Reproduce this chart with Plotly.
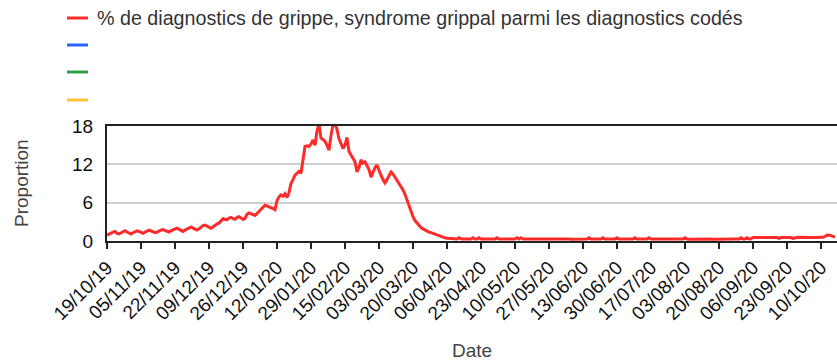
import pandas as pd
import plotly.graph_objects as go

# Daily share (%) of flu / influenza-like-illness diagnoses among coded diagnoses
flu_pct = [
    0.9, 1.1, 1.3, 1.4, 1.5, 1.2, 1.1,
    1.3, 1.5, 1.6, 1.4, 1.2, 1.1, 1.3,
    1.5, 1.6, 1.5, 1.3, 1.2, 1.4, 1.6,
    1.7, 1.6, 1.4, 1.3, 1.4, 1.6, 1.7,
    1.8, 1.7, 1.5, 1.4, 1.6, 1.8, 1.9,
    2.0, 1.8, 1.6, 1.5, 1.7, 1.9, 2.1,
    2.2, 2.0, 1.8, 1.7, 1.9, 2.2, 2.4,
    2.5, 2.3, 2.1, 2.0, 2.2, 2.5, 2.7,
    2.8, 3.2, 3.5, 3.4, 3.3, 3.6, 3.7,
    3.5, 3.4, 3.7, 3.8, 3.6, 3.4, 3.5,
    4.2, 4.4, 4.3, 4.1, 4.0, 4.3, 4.6,
    4.9, 5.3, 5.6, 5.5, 5.3, 5.2, 5.1,
    4.9, 6.3, 6.9, 7.2, 7.0, 7.4, 6.8,
    7.6, 9.0, 9.6, 10.3, 10.6, 10.9, 10.6,
    12.7, 14.8, 14.9, 14.8, 15.2, 15.8, 15.0,
    17.2, 18.3, 16.1, 15.9, 15.6, 15.0, 14.2,
    16.5, 18.2, 18.3, 17.5, 16.0, 15.3, 14.5,
    15.0, 16.2, 14.0, 13.5, 13.0, 12.4, 10.8,
    11.5, 12.7, 12.2, 12.4, 11.8, 11.2, 10.0,
    10.8, 11.5, 11.9, 11.0, 10.3, 9.6, 9.1,
    9.6, 10.3, 10.8, 10.5, 10.0, 9.5, 9.0,
    8.6, 8.0, 7.3, 6.4, 5.5, 4.6, 3.8,
    3.2, 2.8, 2.5, 2.1, 1.9, 1.7, 1.5,
    1.4, 1.3, 1.15, 1.05, 0.95, 0.85, 0.7,
    0.6, 0.5, 0.42, 0.38, 0.35, 0.3, 0.3,
    0.32, 0.5, 0.33, 0.3, 0.29, 0.31, 0.3, 0.32, 0.5, 0.31,
    0.3, 0.5, 0.31, 0.29, 0.3, 0.31, 0.3, 0.29, 0.3, 0.31,
    0.5, 0.3, 0.29, 0.3, 0.31, 0.3, 0.29, 0.3, 0.31, 0.3,
    0.5, 0.32, 0.5, 0.31, 0.3, 0.29, 0.3, 0.31, 0.3, 0.29,
    0.3, 0.31, 0.3, 0.29, 0.3, 0.3, 0.31, 0.3, 0.29, 0.3,
    0.31, 0.3, 0.29, 0.3, 0.3, 0.31, 0.3, 0.29, 0.3, 0.31,
    0.3, 0.29, 0.3, 0.31, 0.3, 0.3, 0.5, 0.31, 0.3, 0.29,
    0.3, 0.31, 0.3, 0.5, 0.31, 0.3, 0.29, 0.3, 0.31, 0.3,
    0.5, 0.31, 0.3, 0.29, 0.3, 0.31, 0.3, 0.29, 0.3, 0.5,
    0.31, 0.3, 0.29, 0.3, 0.31, 0.3, 0.5, 0.32, 0.3, 0.29,
    0.3, 0.31, 0.3, 0.29, 0.3, 0.31, 0.3, 0.29, 0.3, 0.31,
    0.3, 0.29, 0.3, 0.31, 0.5, 0.3, 0.29, 0.3, 0.31, 0.3,
    0.29, 0.3, 0.31, 0.3, 0.29, 0.3, 0.31, 0.3, 0.29, 0.3,
    0.31, 0.3, 0.29, 0.3, 0.31, 0.3, 0.29, 0.3, 0.31, 0.3,
    0.3, 0.32, 0.5, 0.33, 0.32, 0.5, 0.33, 0.35, 0.55, 0.56,
    0.55, 0.56, 0.55, 0.57, 0.56, 0.55, 0.56, 0.57, 0.55, 0.56,
    0.55, 0.42, 0.55, 0.56, 0.57, 0.55, 0.56, 0.55, 0.42, 0.55,
    0.56, 0.57, 0.55, 0.56, 0.55, 0.57, 0.56, 0.55, 0.56, 0.57,
    0.55, 0.56, 0.55, 0.57, 0.7, 0.9, 0.95, 0.8, 0.62, 0.6,
]
start_date = "2019-10-19"
end_date = "2020-10-18"
dates = pd.date_range(start_date, periods=len(flu_pct), freq="D")

y_ticks = [0, 6, 12, 18]
legend_labels = [
    "% de diagnostics de grippe, syndrome grippal parmi les diagnostics codés",
    "",
    "",
    "",
]
legend_colors = ["#ff2b2b", "#2962ff", "#2e9e4a", "#fbc534"]

W, H = 837, 362
ML, MR, MT, MB = 107, 0, 126, 121
PW, PH = W - ML - MR, H - MT - MB
FONT = "Arial, Liberation Sans, sans-serif"


def px_x(px):
    return (px - ML) / PW


def px_y(py):
    return (H - MB - py) / PH


fig = go.Figure()
fig.add_trace(go.Scatter(
    x=dates, y=flu_pct, mode="lines",
    line=dict(color=legend_colors[0], width=3),
    showlegend=False, hoverinfo="x+y",
))

fig.update_layout(
    width=W, height=H,
    margin=dict(l=ML, r=MR, t=MT, b=MB, pad=0),
    paper_bgcolor="white", plot_bgcolor="white",
    font=dict(family=FONT, color="#222"),
    showlegend=False,
)
fig.update_xaxes(
    type="date", range=[start_date, end_date],
    tick0=start_date, dtick=17 * 86400000, tickformat="%d/%m/%y",
    tickangle=-45, tickfont=dict(size=19, color="#111"),
    ticks="outside", ticklen=6, tickwidth=2, tickcolor="#222",
    showline=True, linecolor="#222", linewidth=2, mirror=True,
    showgrid=False, zeroline=False,
)
fig.update_yaxes(
    range=[0, 18], tickvals=y_ticks, tickfont=dict(size=19, color="#111"),
    ticks="", ticklabelstandoff=8,
    showline=True, linecolor="#222", linewidth=2,
    showgrid=True, gridcolor="#cfcfcf", gridwidth=2, zeroline=False,
)

annotations = [
    dict(text="Proportion", xref="paper", yref="paper", x=px_x(21), y=px_y(183),
         xanchor="center", yanchor="middle",
         textangle=-90, showarrow=False, font=dict(size=19, color="#444")),
    dict(text="Date", xref="paper", yref="paper", x=px_x(472), y=px_y(350),
         xanchor="center", yanchor="middle",
         showarrow=False, font=dict(size=19, color="#444")),
]
shapes = []
legend_rows = [18, 45, 72, 100]
for label, color, row in zip(legend_labels, legend_colors, legend_rows):
    shapes.append(dict(type="line", xref="paper", yref="paper",
                       x0=px_x(67), x1=px_x(88), y0=px_y(row), y1=px_y(row),
                       line=dict(color=color, width=3)))
    if label:
        annotations.append(dict(text=label, xref="paper", yref="paper",
                                x=px_x(95), y=px_y(row), xanchor="left",
                                yanchor="middle", showarrow=False,
                                font=dict(size=19.7, color="#333")))
fig.update_layout(annotations=annotations, shapes=shapes)

fig.write_html("out.html")
